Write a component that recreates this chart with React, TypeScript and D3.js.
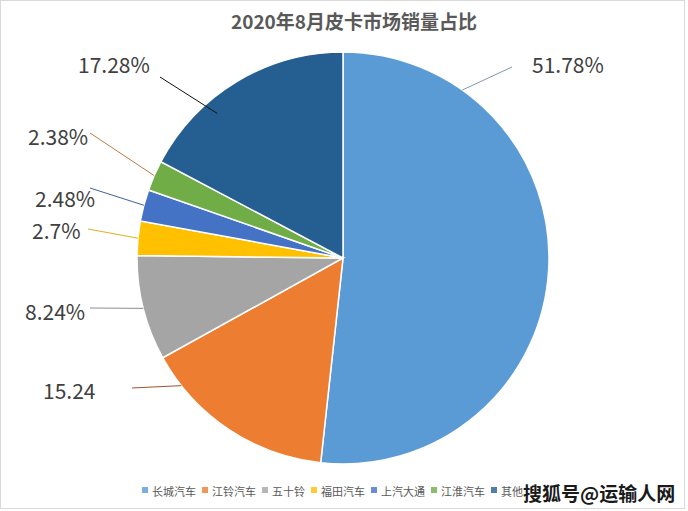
import React from 'react';
import * as d3 from 'd3';

// data
const brands = ['长城汽车', '江铃汽车', '五十铃', '福田汽车', '上汽大通', '江淮汽车', '其他'];
const shares = [51.78, 15.24, 8.24, 2.7, 2.48, 2.38, 17.28];
const labels = ['51.78%', '15.24', '8.24%', '2.7%', '2.48%', '2.38%', '17.28%'];
const colors = ['#5B9BD5', '#ED7D31', '#A5A5A5', '#FFC000', '#4472C4', '#70AD47', '#255E91'];

// where the data labels sit (text left x, centre y), leader end, and where the leader touches the slice
const labelLayout = [
  { x: 532, y: 64, ex: 512, ey: 67, t: 0.19, rr: 1.0, line: '#7f98b3' },
  { x: 43, y: 390, ex: 132, ey: 388, t: 0.83, rr: 1.0, line: '#a0522d' },
  { x: 25, y: 311, ex: 90, ey: 308, t: 0.5, rr: 1.0, line: '#8c8c8c' },
  { x: 32, y: 230, ex: 88, ey: 229, t: 0.5, rr: 1.0, line: '#e0b020' },
  { x: 35, y: 198, ex: 90, ey: 188, t: 0.5, rr: 1.0, line: '#3f5f9f' },
  { x: 28, y: 136, ex: 90, ey: 133, t: 0.5, rr: 1.0, line: '#c07a40' },
  { x: 78, y: 64, ex: 160, ey: 77, t: 0.34, rr: 0.93, line: '#111111' },
];

const width = 688;
const height = 511;
const cx = 343;
const cy = 258;
const radius = 206;

const font = '"Microsoft YaHei", "Noto Sans CJK SC", "Noto Sans", sans-serif';

export default function App() {
  const pie = d3.pie<number>().sort(null).value(d => d)(shares);
  const arc = d3.arc<d3.PieArcDatum<number>>().innerRadius(0).outerRadius(radius);

  const pointAt = (angle: number, r: number): [number, number] => [
    Math.sin(angle) * r,
    -Math.cos(angle) * r,
  ];

  // legend positions laid out sequentially from text length
  const legendFont = 11;
  let lx = 142;
  const legendItems = brands.map((b, i) => {
    const item = { name: b, x: lx, color: colors[i] };
    lx += 6 + 4 + b.length * legendFont + 6;
    return item;
  });

  return (
    <svg
      width={width}
      height={height}
      viewBox={`0 0 ${width} ${height}`}
      style={{ position: 'absolute', left: 0, top: 0, background: '#fff' }}
    >
      <rect x={0.5} y={0.5} width={684} height={508} fill="#fff" stroke="#d9d9d9" />

      <text
        x={354}
        y={20}
        textAnchor="middle"
        dominantBaseline="central"
        style={{ fontFamily: font, fontSize: '19px', fontWeight: 'bold', fill: '#595959' }}
      >2020年8月皮卡市场销量占比</text>

      <g transform={`translate(${cx},${cy})`}>
        {pie.map((d, i) => (
          <path key={i} d={arc(d) || ''} fill={colors[i]} stroke="#fff" strokeWidth={1.5} />
        ))}
      </g>

      {pie.map((d, i) => {
        const L = labelLayout[i];
        const a = d.startAngle + (d.endAngle - d.startAngle) * L.t;
        const [px, py] = pointAt(a, radius * L.rr);
        return (
          <g key={i}>
            <line x1={cx + px} y1={cy + py} x2={L.ex} y2={L.ey} stroke={L.line} strokeWidth={1} />
            <text
              x={L.x}
              y={L.y}
              dominantBaseline="central"
              style={{ fontFamily: font, fontSize: '21px', fill: '#404040' }}
            >{labels[i]}</text>
          </g>
        );
      })}

      <g>
        {legendItems.map((it, i) => (
          <g key={i}>
            <rect x={it.x} y={487} width={6} height={6} fill={it.color} opacity={0.8} />
            <text
              x={it.x + 10}
              y={490.5}
              dominantBaseline="central"
              style={{ fontFamily: font, fontSize: `${legendFont}px`, fill: '#595959' }}
            >{it.name}</text>
          </g>
        ))}
      </g>

      <text
        x={523}
        y={492}
        dominantBaseline="central"
        style={{ fontFamily: font, fontSize: '19px', fontWeight: 'bold', fill: '#1a1a1a' }}
      >搜狐号@运输人网</text>
    </svg>
  );
}
